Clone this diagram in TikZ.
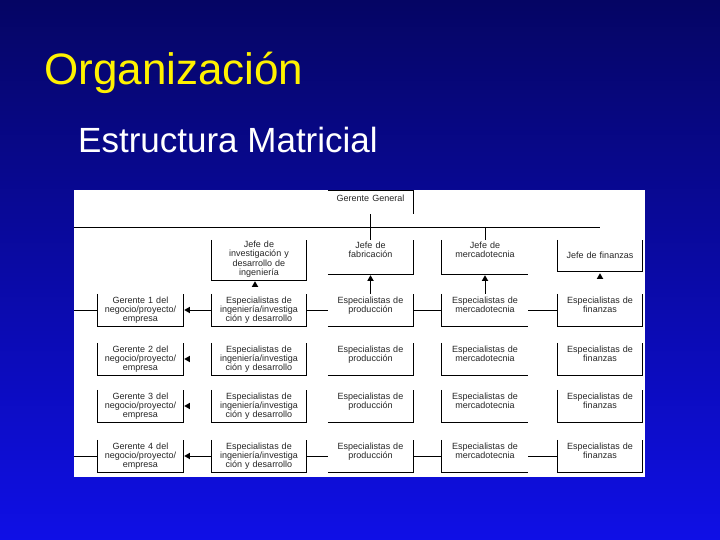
\documentclass[tikz,border=0pt]{standalone}
\usepackage{fontspec}
\setmainfont{Liberation Sans}
\usepackage{tikz}
\usetikzlibrary{positioning,shapes.geometric}
\definecolor{slidetop}{RGB}{5,5,100}
\definecolor{slidebottom}{RGB}{15,15,230}

\begin{document}
\begin{tikzpicture}[x=1pt,y=-1pt]
                \tikzstyle{chartbox}=[inner sep=0pt, align=center, text=black!85, font=\fontsize{9}{9.3}\selectfont]
                \tikzstyle{rowbox}=[chartbox, text height=9pt, text depth=23pt]
                \tikzstyle{uptri}=[regular polygon, regular polygon sides=3, fill=black, inner sep=0pt, minimum size=7.5pt]
                \tikzstyle{lefttri}=[uptri, shape border rotate=90]
                \tikzstyle{connect}=[line width=1pt, black]
                % slide
                \fill[top color=slidetop, bottom color=slidebottom] (0,0) rectangle (720,540);
                \node[anchor=base west, inner sep=0pt, text=yellow, font=\fontsize{44}{50}\selectfont] (title) at (44,85) {Organización};
                \node[anchor=base west, inner sep=0pt, text=white, font=\fontsize{35}{40}\selectfont] (subtitle) at (78,153) {Estructura Matricial};
                \fill[white] (74,190) rectangle (645,477);
                % jefes
                \node[chartbox, text width=85pt, text height=10.5pt, text depth=12.5pt] (gg) at (370.5,202.5) {Gerente General};
                \node[chartbox, text width=94pt, text height=7.5pt, text depth=32.5pt] (inv) at (259,260) {Jefe de\\investigación y\\desarrollo de\\ingeniería};
                \node[chartbox, text width=85pt, text height=8.5pt, text depth=25.5pt] (fab) at (370.5,257) {Jefe de\\fabricación};
                \node[chartbox, text width=86pt, text height=8.5pt, text depth=25.5pt] (merc) at (485,257) {Jefe de\\mercadotecnia};
                \node[chartbox, text width=84pt, text height=18.5pt, text depth=12.5pt] (fin) at (600,255.5) {Jefe de finanzas};
                \node[uptri] (uinv) at (255,285) {};
                \node[uptri] (ufab) at (370.5,279) {};
                \node[uptri] (umerc) at (485,279) {};
                \node[uptri] (ufin) at (600,277) {};
                \draw[connect] (gg.north west) -| (gg.south east);
                \draw[connect] (inv.north west) |- (inv.south east) -- (inv.north east);
                \draw[connect] (fab.south west) -| (fab.north east);
                \draw[connect] (merc.north west) |- (merc.south east);
                \draw[connect] (fin.north west) |- (fin.south east) -- (fin.north east);
                \coordinate (chartleft) at (74,228);
                \path[-] (chartleft) edge [connect] (chartleft -| fin.north);
                \path[-] (gg.south) edge [connect] (fab.north);
                \path[-] (chartleft -| merc.north) edge [connect] (merc.north);
                % negocios y especialistas
                \foreach \n/\yy in {1/294,2/343,3/390,4/440}{
                    \node[rowbox, text width=85pt] (g\n) at (140.5,\yy+16) {Gerente \n\ del\\negocio/proyecto/\\empresa};
                    \node[rowbox, text width=94pt] (e\n) at (259,\yy+16) {Especialistas de\\ingeniería/investiga\\ción y desarrollo};
                    \node[rowbox, text width=85pt] (p\n) at (370.5,\yy+16) {Especialistas de\\producción};
                    \node[rowbox, text width=86pt] (m\n) at (485,\yy+16) {Especialistas de\\mercadotecnia};
                    \node[rowbox, text width=84pt] (f\n) at (600,\yy+16) {Especialistas de\\finanzas};
                    \node[lefttri] (a\n) at (188,\yy+16) {};
                    \draw[connect] (g\n.north west) |- (g\n.south east) -- (g\n.north east);
                    \draw[connect] (e\n.north west) |- (e\n.south east) -- (e\n.north east);
                    \draw[connect] (p\n.south west) -| (p\n.north east);
                    \draw[connect] (m\n.north west) |- (m\n.south east);
                    \draw[connect] (f\n.north west) |- (f\n.south east) -- (f\n.north east);
                }
                \foreach \n in {1,4}{
                    \path[-] (g\n.west -| chartleft) edge [connect] (g\n.west);
                    \path[-] (a\n) edge [connect] (e\n.west);
                    \path[-] (e\n.east) edge [connect] (p\n.west);
                    \path[-] (p\n.east) edge [connect] (m\n.west);
                    \path[-] (m\n.east) edge [connect] (f\n.west);
                }
                \path[-] (p1.north) edge [connect] (ufab);
                \path[-] (m1.north) edge [connect] (umerc);
\end{tikzpicture}
\end{document}
